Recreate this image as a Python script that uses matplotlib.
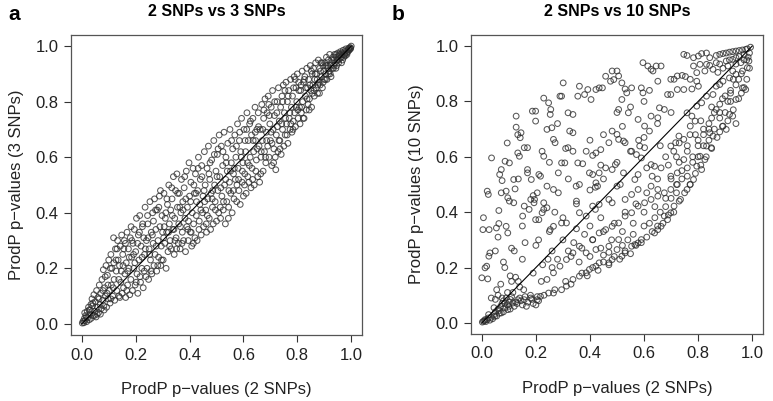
import matplotlib
matplotlib.use("Agg")
import matplotlib.pyplot as plt
from matplotlib.ticker import FormatStrFormatter

plt.rcParams['font.family'] = ['Liberation Sans', 'DejaVu Sans']

titles = ["2 SNPs vs 3 SNPs", "2 SNPs vs 10 SNPs"]
panel_letters = ["a", "b"]
xlabel = "ProdP p\u2212values (2 SNPs)"
ylabels = ["ProdP p\u2212values (3 SNPs)", "ProdP p\u2212values (10 SNPs)"]
ticks = [0.0, 0.2, 0.4, 0.6, 0.8, 1.0]
diag = [0.0, 1.0]

# ---- panel a: 2 SNPs (x) vs 3 SNPs (y) ----
a_x = [
    0.002,0.005,0.008,0.010,0.012,0.015,0.018,0.020,0.022,0.025,0.028,0.030,
    0.032,0.035,0.038,0.040,0.042,0.045,0.048,0.050,0.053,0.055,0.058,0.060,
    0.062,0.065,0.068,0.070,0.072,0.075,0.078,0.080,0.082,0.085,0.088,0.090,
    0.092,0.095,0.098,0.100,0.102,0.105,0.108,0.110,0.112,0.115,0.118,0.120,
    0.122,0.125,0.128,0.130,0.133,0.135,0.138,0.140,0.143,0.145,0.148,0.150,
    0.152,0.155,0.158,0.160,0.163,0.165,0.168,0.170,0.173,0.175,0.178,0.180,
    0.182,0.185,0.188,0.190,0.193,0.195,0.198,0.200,0.203,0.205,0.208,0.210,
    0.212,0.215,0.218,0.220,0.223,0.225,0.228,0.230,0.233,0.235,0.238,0.240,
    0.242,0.245,0.248,0.250,0.253,0.255,0.258,0.260,0.263,0.265,0.268,0.270,
    0.272,0.275,0.278,0.280,0.283,0.285,0.288,0.290,0.293,0.295,0.298,0.300,
    0.302,0.305,0.308,0.310,0.313,0.315,0.318,0.320,0.323,0.325,0.328,0.330,
    0.332,0.335,0.338,0.340,0.343,0.345,0.348,0.350,0.353,0.355,0.358,0.360,
    0.362,0.365,0.368,0.370,0.373,0.375,0.378,0.380,0.383,0.385,0.388,0.390,
    0.392,0.395,0.398,0.400,0.403,0.405,0.408,0.410,0.413,0.415,0.418,0.420,
    0.422,0.425,0.428,0.430,0.433,0.435,0.438,0.440,0.443,0.445,0.448,0.450,
    0.452,0.455,0.458,0.460,0.463,0.465,0.468,0.470,0.473,0.475,0.478,0.480,
    0.482,0.485,0.488,0.490,0.493,0.495,0.498,0.500,0.503,0.505,0.508,0.510,
    0.512,0.515,0.518,0.520,0.523,0.525,0.528,0.530,0.533,0.535,0.538,0.540,
    0.542,0.545,0.548,0.550,0.553,0.555,0.558,0.560,0.563,0.565,0.568,0.570,
    0.572,0.575,0.578,0.580,0.583,0.585,0.588,0.590,0.593,0.595,0.598,0.600,
    0.602,0.605,0.608,0.610,0.613,0.615,0.618,0.620,0.623,0.625,0.628,0.630,
    0.632,0.635,0.638,0.640,0.643,0.645,0.648,0.650,0.653,0.655,0.658,0.660,
    0.662,0.665,0.668,0.670,0.673,0.675,0.678,0.680,0.683,0.685,0.688,0.690,
    0.692,0.695,0.698,0.700,0.703,0.705,0.708,0.710,0.713,0.715,0.718,0.720,
    0.722,0.725,0.728,0.730,0.733,0.735,0.738,0.740,0.743,0.745,0.748,0.750,
    0.752,0.755,0.758,0.760,0.763,0.765,0.768,0.770,0.773,0.775,0.778,0.780,
    0.782,0.785,0.788,0.790,0.793,0.795,0.798,0.800,0.803,0.805,0.808,0.810,
    0.812,0.815,0.818,0.820,0.823,0.825,0.828,0.830,0.833,0.835,0.838,0.840,
    0.842,0.845,0.848,0.850,0.853,0.855,0.858,0.860,0.863,0.865,0.868,0.870,
    0.872,0.875,0.878,0.880,0.883,0.885,0.888,0.890,0.893,0.895,0.898,0.900,
    0.902,0.905,0.908,0.910,0.913,0.915,0.918,0.920,0.923,0.925,0.928,0.930,
    0.932,0.935,0.938,0.940,0.943,0.945,0.948,0.950,0.953,0.955,0.958,0.960,
    0.962,0.965,0.968,0.970,0.973,0.975,0.978,0.980,0.983,0.985,0.988,0.990,0.993,0.995,0.998,1.000,
    0.011,0.027,0.041,0.057,0.064,0.079,0.087,0.097,0.106,0.117,0.127,0.137,
    0.147,0.156,0.167,0.176,0.186,0.197,0.207,0.216,0.226,0.236,0.246,0.257,
    0.266,0.276,0.286,0.296,0.306,0.316,0.326,0.336,0.346,0.356,0.366,0.376,
    0.386,0.396,0.406,0.416,0.426,0.436,0.446,0.456,0.466,0.476,0.486,0.496,
    0.506,0.516,0.526,0.536,0.546,0.556,0.566,0.576,0.586,0.596,0.606,0.616,
    0.626,0.636,0.646,0.656,0.666,0.676,0.686,0.696,0.706,0.716,0.726,0.736,
    0.746,0.756,0.766,0.776,0.786,0.796,0.806,0.816,0.826,0.836,0.846,0.856,
    0.866,0.876,0.886,0.896,0.906,0.916,0.926,0.936,0.946,0.956,0.966,0.976,
    0.018,0.034,0.047,0.069,0.083,0.094,0.108,0.119,0.131,0.141,0.153,0.162,
    0.171,0.183,0.192,0.202,0.214,0.224,0.232,0.244,0.252,0.262,0.274,0.282,
    0.292,0.304,0.312,0.322,0.334,0.342,0.352,0.364,0.372,0.382,0.394,0.404,
    0.414,0.424,0.432,0.442,0.454,0.462,0.472,0.484,0.492,0.502,0.514,0.524,
    0.534,0.544,0.552,0.562,0.574,0.582,0.592,0.604,0.612,0.622,0.634,0.644,
    0.652,0.664,0.672,0.682,0.694,0.702,0.712,0.724,0.732,0.742,0.754,0.762,
    0.772,0.784,0.792,0.802,0.814,0.822,0.832,0.844,0.852,0.862,0.874,0.882,
    0.892,0.904,0.912,0.922,0.934,0.944,0.952,0.964,0.972,0.984,0.992,0.997,
]
a_y = [
    0.003,0.010,0.004,0.020,0.012,0.030,0.008,0.045,0.022,0.060,0.015,0.035,
    0.050,0.020,0.090,0.065,0.030,0.105,0.045,0.080,0.025,0.120,0.060,0.095,
    0.040,0.140,0.070,0.110,0.055,0.160,0.085,0.195,0.065,0.130,0.100,0.210,
    0.060,0.175,0.090,0.230,0.120,0.075,0.250,0.140,0.200,0.100,0.310,0.160,
    0.085,0.270,0.190,0.120,0.300,0.230,0.100,0.210,0.280,0.150,0.320,0.110,
    0.250,0.130,0.300,0.180,0.095,0.220,0.330,0.140,0.270,0.200,0.105,0.310,
    0.160,0.240,0.120,0.290,0.200,0.340,0.140,0.260,0.380,0.180,0.110,0.320,
    0.230,0.390,0.150,0.280,0.200,0.350,0.130,0.310,0.250,0.420,0.170,0.300,
    0.200,0.360,0.160,0.270,0.440,0.230,0.330,0.180,0.400,0.290,0.210,0.450,
    0.250,0.340,0.190,0.410,0.300,0.240,0.460,0.350,0.210,0.280,0.390,0.330,
    0.230,0.470,0.290,0.380,0.200,0.330,0.430,0.260,0.500,0.360,0.300,0.410,
    0.270,0.450,0.340,0.530,0.250,0.380,0.480,0.310,0.540,0.420,0.290,0.360,
    0.470,0.270,0.400,0.520,0.330,0.440,0.300,0.490,0.380,0.260,0.550,0.350,
    0.420,0.300,0.580,0.460,0.330,0.510,0.280,0.400,0.560,0.360,0.470,0.310,
    0.540,0.390,0.300,0.480,0.600,0.340,0.430,0.520,0.320,0.570,0.400,0.460,
    0.350,0.620,0.500,0.410,0.330,0.560,0.450,0.640,0.380,0.520,0.340,0.470,
    0.590,0.420,0.360,0.660,0.500,0.440,0.550,0.370,0.610,0.480,0.400,0.680,
    0.530,0.380,0.640,0.460,0.570,0.410,0.690,0.500,0.360,0.600,0.440,0.550,
    0.650,0.420,0.510,0.700,0.470,0.580,0.400,0.630,0.540,0.450,0.680,0.520,
    0.600,0.440,0.720,0.560,0.480,0.660,0.430,0.620,0.740,0.510,0.580,0.460,
    0.700,0.540,0.620,0.470,0.760,0.580,0.660,0.510,0.720,0.600,0.490,0.680,
    0.560,0.740,0.620,0.500,0.780,0.660,0.590,0.700,0.530,0.760,0.640,0.510,
    0.700,0.600,0.790,0.660,0.550,0.740,0.620,0.810,0.580,0.690,0.760,0.640,
    0.820,0.600,0.720,0.660,0.780,0.570,0.840,0.700,0.630,0.750,0.600,0.555,
    0.680,0.800,0.620,0.850,0.730,0.660,0.780,0.610,0.820,0.700,0.860,0.640,
    0.760,0.680,0.870,0.720,0.800,0.650,0.840,0.740,0.700,0.880,0.780,0.690,
    0.820,0.730,0.890,0.760,0.710,0.850,0.800,0.900,0.740,0.870,0.780,0.720,
    0.840,0.760,0.910,0.800,0.870,0.740,0.890,0.820,0.770,0.920,0.850,0.790,
    0.880,0.810,0.930,0.840,0.780,0.900,0.860,0.920,0.820,0.880,0.940,0.850,
    0.900,0.830,0.950,0.870,0.920,0.860,0.940,0.890,0.850,0.930,0.910,0.880,
    0.940,0.900,0.960,0.880,0.920,0.950,0.910,0.970,0.930,0.890,0.950,0.920,
    0.960,0.930,0.970,0.940,0.920,0.960,0.950,0.975,0.940,0.965,0.955,0.980,
    0.960,0.975,0.950,0.985,0.970,0.980,0.965,0.990,0.975,0.985,0.980,0.992,0.988,0.995,0.993,1.000,
    0.040,0.050,0.075,0.035,0.090,0.120,0.170,0.140,0.200,0.130,0.230,0.160,
    0.190,0.270,0.120,0.240,0.300,0.220,0.290,0.170,0.360,0.270,0.310,0.190,
    0.370,0.280,0.420,0.230,0.350,0.450,0.280,0.390,0.300,0.470,0.350,0.410,
    0.450,0.370,0.330,0.500,0.440,0.370,0.530,0.440,0.390,0.580,0.480,0.410,
    0.630,0.490,0.440,0.580,0.480,0.660,0.560,0.500,0.690,0.550,0.660,0.530,
    0.730,0.660,0.550,0.710,0.620,0.770,0.660,0.750,0.650,0.800,0.710,0.630,
    0.800,0.740,0.820,0.720,0.850,0.780,0.840,0.780,0.880,0.810,0.860,0.830,
    0.900,0.860,0.910,0.870,0.930,0.900,0.940,0.950,0.930,0.970,0.970,0.970,
    0.025,0.070,0.030,0.035,0.050,0.110,0.090,0.220,0.270,0.095,0.210,0.290,
    0.190,0.350,0.250,0.150,0.330,0.240,0.190,0.390,0.250,0.320,0.410,0.210,
    0.480,0.310,0.400,0.330,0.490,0.340,0.270,0.420,0.290,0.530,0.340,0.440,
    0.290,0.470,0.560,0.410,0.480,0.360,0.540,0.450,0.610,0.530,0.420,0.620,
    0.520,0.380,0.550,0.480,0.640,0.520,0.600,0.500,0.700,0.570,0.520,0.690,
    0.630,0.540,0.700,0.600,0.790,0.690,0.580,0.760,0.660,0.720,0.840,0.680,
    0.760,0.700,0.880,0.770,0.860,0.740,0.850,0.770,0.910,0.840,0.880,0.830,
    0.940,0.880,0.930,0.900,0.920,0.970,0.950,0.940,0.960,0.970,0.985,0.990,
]

# ---- panel b: 2 SNPs (x) vs 10 SNPs (y) ----
b_x = [
    0.036,0.020,0.024,0.006,0.004,0.027,0.000,0.022,0.012,0.018,0.030,0.026,
    0.060,0.054,0.063,0.063,0.072,0.066,0.072,0.075,0.094,0.102,0.086,0.090,
    0.102,0.096,0.090,0.096,0.127,0.127,0.133,0.133,0.139,0.118,0.123,0.135,
    0.118,0.145,0.142,0.157,0.169,0.169,0.183,0.169,0.187,0.199,0.199,0.229,
    0.247,0.255,0.253,0.259,0.241,0.265,0.271,0.223,0.229,0.211,0.217,0.229,
    0.241,0.301,0.289,0.295,0.319,0.337,0.325,0.337,0.361,0.355,0.380,0.392,
    0.404,0.422,0.434,0.446,0.458,0.482,0.500,0.506,0.476,0.488,0.518,0.530,
    0.536,0.518,0.554,0.590,0.596,0.596,0.614,0.626,0.633,0.645,0.663,0.651,
    0.699,0.711,0.723,0.741,0.753,0.747,0.759,0.783,0.801,0.813,0.831,0.843,
    0.867,0.880,0.892,0.904,0.916,0.928,0.940,0.952,0.964,0.976,0.982,0.994,
    0.783,0.807,0.831,0.843,0.867,0.880,0.904,0.916,0.928,0.940,0.952,0.970,
    0.795,0.825,0.855,0.873,0.892,0.910,0.928,0.940,0.958,0.970,0.985,0.990,
    0.771,0.795,0.723,0.747,0.777,0.801,0.687,0.699,0.675,0.657,0.626,0.651,
    0.602,0.620,0.542,0.506,0.578,0.482,0.500,0.506,0.524,0.530,0.470,0.422,
    0.440,0.386,0.410,0.337,0.319,0.355,0.373,0.295,0.307,0.283,0.398,0.410,
    0.434,0.458,0.482,0.494,0.524,0.554,0.572,0.590,0.602,0.584,0.626,0.639,
    0.663,0.566,0.578,0.500,0.512,0.422,0.428,0.349,0.361,0.265,0.283,0.241,
    0.205,0.195,0.181,0.193,0.157,0.175,0.151,0.199,0.211,0.223,0.229,0.253,
    0.265,0.295,0.313,0.361,0.386,0.410,0.434,0.470,0.482,0.530,0.554,0.578,
    0.626,0.651,0.699,0.723,0.747,0.699,0.717,0.729,0.747,0.771,0.789,0.759,
    0.777,0.795,0.813,0.831,0.855,0.867,0.880,0.892,0.916,0.940,0.964,0.982,
    0.988,0.976,0.964,0.940,0.916,0.928,0.892,0.904,0.867,0.843,0.855,0.831,
    0.849,0.807,0.825,0.795,0.813,0.783,0.771,0.759,0.735,0.711,0.699,0.675,
    0.687,0.651,0.663,0.639,0.590,0.578,0.554,0.566,0.530,0.518,0.482,0.470,
    0.434,0.422,0.398,0.386,0.361,0.337,0.313,0.295,0.265,0.247,0.217,0.205,
    0.181,0.157,0.133,0.115,0.096,0.072,0.048,0.024,0.012,0.006,0.002,0.010,
    0.015,0.020,0.030,0.035,0.040,0.045,0.050,0.055,0.060,0.065,0.070,0.075,
    0.080,0.085,0.090,0.095,0.100,0.105,0.110,0.120,0.130,0.140,0.150,0.160,
    0.170,0.180,0.190,0.200,0.210,0.095,0.110,0.125,0.140,0.060,0.070,0.050,
    0.410,0.434,0.458,0.482,0.506,0.530,0.554,0.578,0.602,0.626,0.651,0.675,
    0.361,0.337,0.313,0.289,0.265,0.241,0.386,0.422,0.470,0.506,0.699,0.723,
    0.450,0.470,0.500,0.520,0.540,0.560,0.600,0.620,0.640,0.660,0.680,0.700,
    0.720,0.740,0.760,0.780,0.800,0.820,0.840,0.860,0.880,0.900,0.920,0.940,
    0.150,0.200,0.250,0.300,0.350,0.400,0.450,0.500,0.550,0.600,0.650,0.700,
    0.610,0.630,0.680,0.710,0.730,0.760,0.790,0.820,0.850,0.880,0.910,0.950,
    0.220,0.260,0.280,0.320,0.340,0.380,0.400,0.440,0.260,0.300,0.350,0.420,
    0.230,0.270,0.310,0.330,0.370,0.390,0.410,0.430,0.450,0.470,0.490,0.510,
    0.530,0.550,0.570,0.590,0.610,0.630,0.650,0.670,0.690,0.710,0.730,0.750,
    0.770,0.790,0.810,0.830,0.850,0.870,0.890,0.910,0.930,0.950,0.970,0.990,
    0.360,0.400,0.440,0.480,0.520,0.560,0.600,0.640,0.680,0.720,0.760,0.800,
    0.840,0.880,0.920,0.960,0.980,0.940,0.900,0.860,0.820,0.780,0.740,0.700,
    0.720,0.760,0.800,0.840,0.880,0.920,0.960,0.980,0.930,0.890,0.850,0.810,
    0.770,0.730,0.690,0.650,0.610,0.570,0.530,0.490,0.450,0.410,0.370,0.330,
    0.025,0.045,0.065,0.085,0.105,0.125,0.145,0.165,0.185,0.205,0.080,0.100,
    0.035,0.055,0.075,0.115,0.135,0.155,0.190,0.225,0.245,0.105,0.085,0.120,
    0.050,0.080,0.110,0.160,0.190,0.250,0.310,0.280,0.350,0.400,0.450,0.500,
    0.550,0.600,0.440,0.520,0.580,0.620,0.660,0.420,0.320,0.270,0.210,0.150,
]
b_y = [
    0.596,0.476,0.464,0.380,0.337,0.337,0.163,0.159,0.199,0.205,0.253,0.241,
    0.310,0.343,0.359,0.406,0.470,0.536,0.554,0.514,0.650,0.578,0.584,0.476,
    0.440,0.452,0.349,0.325,0.747,0.707,0.680,0.614,0.602,0.518,0.484,0.520,
    0.434,0.687,0.669,0.633,0.633,0.554,0.518,0.542,0.765,0.765,0.729,0.812,
    0.795,0.771,0.753,0.705,0.699,0.663,0.651,0.620,0.602,0.536,0.530,0.434,
    0.416,0.867,0.819,0.819,0.759,0.753,0.693,0.687,0.855,0.819,0.825,0.843,
    0.807,0.843,0.849,0.849,0.891,0.910,0.910,0.892,0.873,0.879,0.867,0.845,
    0.831,0.807,0.849,0.849,0.831,0.940,0.928,0.916,0.910,0.928,0.928,0.873,
    0.880,0.880,0.892,0.894,0.890,0.970,0.966,0.958,0.964,0.973,0.975,0.958,
    0.966,0.970,0.973,0.975,0.978,0.980,0.982,0.984,0.986,0.988,0.990,0.996,
    0.928,0.934,0.934,0.930,0.940,0.935,0.946,0.950,0.952,0.958,0.962,0.970,
    0.904,0.910,0.916,0.905,0.920,0.928,0.910,0.935,0.940,0.950,0.960,0.975,
    0.880,0.873,0.843,0.843,0.845,0.855,0.825,0.825,0.771,0.777,0.747,0.741,
    0.711,0.693,0.759,0.771,0.735,0.693,0.681,0.663,0.657,0.651,0.651,0.614,
    0.626,0.620,0.605,0.620,0.633,0.578,0.575,0.578,0.578,0.542,0.542,0.536,
    0.542,0.560,0.554,0.572,0.542,0.620,0.608,0.596,0.633,0.639,0.572,0.566,
    0.560,0.518,0.536,0.494,0.500,0.506,0.494,0.494,0.500,0.482,0.470,0.494,
    0.470,0.446,0.446,0.434,0.422,0.410,0.386,0.373,0.373,0.398,0.410,0.337,
    0.349,0.361,0.361,0.398,0.386,0.422,0.428,0.446,0.434,0.446,0.464,0.482,
    0.494,0.482,0.530,0.542,0.590,0.639,0.651,0.675,0.663,0.711,0.729,0.759,
    0.747,0.783,0.795,0.819,0.825,0.855,0.861,0.873,0.885,0.898,0.910,0.922,
    0.946,0.843,0.849,0.807,0.753,0.747,0.711,0.699,0.771,0.687,0.675,0.639,
    0.633,0.602,0.590,0.566,0.554,0.518,0.500,0.482,0.446,0.422,0.398,0.386,
    0.373,0.337,0.349,0.325,0.301,0.289,0.277,0.283,0.253,0.241,0.229,0.217,
    0.217,0.205,0.193,0.181,0.169,0.157,0.133,0.120,0.108,0.108,0.096,0.084,
    0.090,0.084,0.084,0.072,0.048,0.036,0.024,0.018,0.012,0.006,0.003,0.008,
    0.005,0.012,0.010,0.020,0.015,0.030,0.040,0.025,0.050,0.035,0.060,0.070,
    0.080,0.055,0.090,0.065,0.075,0.050,0.095,0.060,0.070,0.090,0.065,0.095,
    0.075,0.100,0.070,0.065,0.080,0.110,0.150,0.165,0.130,0.100,0.140,0.085,
    0.301,0.325,0.337,0.349,0.361,0.386,0.398,0.422,0.434,0.446,0.458,0.470,
    0.277,0.253,0.229,0.205,0.181,0.157,0.253,0.265,0.277,0.301,0.482,0.500,
    0.245,0.255,0.265,0.280,0.300,0.320,0.350,0.360,0.380,0.400,0.420,0.450,
    0.470,0.520,0.560,0.600,0.640,0.680,0.720,0.760,0.790,0.820,0.840,0.860,
    0.230,0.280,0.330,0.380,0.430,0.480,0.520,0.580,0.620,0.670,0.720,0.760,
    0.560,0.530,0.600,0.620,0.580,0.640,0.680,0.700,0.740,0.760,0.800,0.880,
    0.150,0.200,0.230,0.260,0.290,0.320,0.350,0.380,0.260,0.300,0.340,0.410,
    0.100,0.120,0.150,0.140,0.180,0.170,0.200,0.190,0.220,0.210,0.240,0.230,
    0.260,0.250,0.280,0.290,0.310,0.330,0.350,0.360,0.390,0.400,0.440,0.470,
    0.500,0.540,0.570,0.600,0.630,0.670,0.710,0.730,0.770,0.810,0.850,0.920,
    0.220,0.240,0.270,0.300,0.330,0.360,0.400,0.420,0.450,0.500,0.530,0.600,
    0.660,0.690,0.800,0.830,0.880,0.720,0.760,0.700,0.640,0.580,0.550,0.520,
    0.600,0.620,0.660,0.700,0.740,0.830,0.900,0.950,0.880,0.810,0.780,0.730,
    0.680,0.650,0.570,0.520,0.470,0.430,0.400,0.360,0.330,0.300,0.270,0.240,
    0.030,0.055,0.045,0.070,0.085,0.075,0.080,0.060,0.085,0.095,0.040,0.060,
    0.090,0.120,0.090,0.110,0.150,0.120,0.180,0.210,0.230,0.170,0.200,0.260,
    0.260,0.220,0.270,0.290,0.460,0.580,0.630,0.720,0.440,0.660,0.680,0.760,
    0.780,0.800,0.570,0.710,0.660,0.840,0.640,0.490,0.520,0.400,0.300,0.350,
]

fig = plt.figure(figsize=(7.73, 4.01), dpi=100)
axes_rects = [(71/773, 66/401, 291/773, 300/401),
              (471/773, 67/401, 292/773, 299/401)]
letter_x = [8/773, 392/773]
xs = [a_x, b_x]
ys = [a_y, b_y]

for i in range(2):
    ax = fig.add_axes(axes_rects[i])
    ax.scatter(xs[i], ys[i], s=17, facecolors='none', edgecolors='#2e2e2e',
               linewidths=0.75, alpha=0.8, zorder=2)
    ax.plot(diag, diag, color='black', lw=0.8, zorder=3)
    ax.set_xlim(-0.04, 1.04)
    ax.set_ylim(-0.04, 1.04)
    ax.set_xticks(ticks)
    ax.set_yticks(ticks)
    ax.xaxis.set_major_formatter(FormatStrFormatter('%.1f'))
    ax.yaxis.set_major_formatter(FormatStrFormatter('%.1f'))
    ax.tick_params(direction='out', length=5, width=0.8, labelsize=12,
                   colors='#333333', labelcolor='#222222', pad=4)
    for sp in ax.spines.values():
        sp.set_color('#555555')
        sp.set_linewidth(0.9)
    ax.set_xlabel(xlabel, fontsize=12, color='#222222', labelpad=14)
    ax.set_ylabel(ylabels[i], fontsize=12, color='#222222', labelpad=8)
    ax.set_title(titles[i], fontsize=11.5, fontweight='bold', pad=14)
    fig.text(letter_x[i], 0.965, panel_letters[i], fontsize=15,
             fontweight='bold', va='center', ha='left')

fig.savefig("out.png", dpi=100)
